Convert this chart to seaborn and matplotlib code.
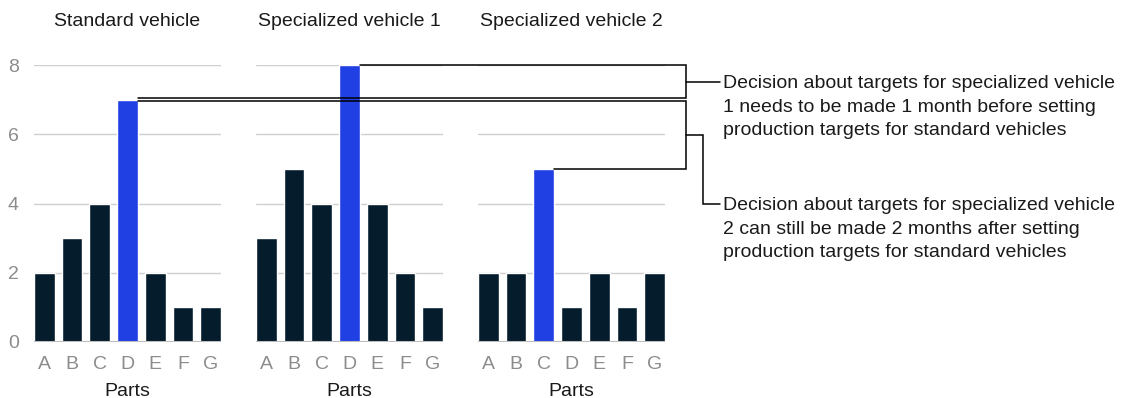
import matplotlib
matplotlib.use("Agg")
import matplotlib.pyplot as plt
from matplotlib.lines import Line2D
import seaborn as sns

# Parts usage per vehicle type
parts = ["A", "B", "C", "D", "E", "F", "G"]
standard_vehicle = [2, 3, 4, 7, 2, 1, 1]
specialized_vehicle_1 = [3, 5, 4, 8, 4, 2, 1]
specialized_vehicle_2 = [2, 2, 5, 1, 2, 1, 2]
panel_titles = ["Standard vehicle", "Specialized vehicle 1", "Specialized vehicle 2"]
highlight_parts = ["D", "D", "C"]
y_ticks = [0, 2, 4, 6, 8]
note_1 = ("Decision about targets for specialized vehicle\n"
          "1 needs to be made 1 month before setting\n"
          "production targets for standard vehicles")
note_2 = ("Decision about targets for specialized vehicle\n"
          "2 can still be made 2 months after setting\n"
          "production targets for standard vehicles")

NAVY = "#051C2C"
BLUE = "#2140E3"
GRID = "#CFCFCF"
TICK = "#8C8C8C"
TEXT = "#1A1A1A"
FS = 14

sns.set_theme(style="white")
plt.rcParams["font.family"] = ["Liberation Sans", "DejaVu Sans"]

W, H = 1130, 398
fig = plt.figure(figsize=(W / 100, H / 100), dpi=100)

lefts = [34, 256, 478]
ax_w = 187
y_bottom, y_top = 342, 65
series = [standard_vehicle, specialized_vehicle_1, specialized_vehicle_2]
axes = []
for i, (left, vals, title, hl) in enumerate(zip(lefts, series, panel_titles, highlight_parts)):
    ax = fig.add_axes([left / W, 1 - y_bottom / H, ax_w / W, (y_bottom - y_top) / H])
    colors = {p: (BLUE if p == hl else NAVY) for p in parts}
    sns.barplot(x=parts, y=vals, hue=parts, palette=colors, legend=False,
                width=0.75, saturation=1, ax=ax, zorder=3)
    ax.set_xlim(-0.375, 6.375)
    ax.set_ylim(0, 8)
    ax.set_yticks(y_ticks)
    for yv in y_ticks[1:]:
        ax.axhline(yv, color=GRID, lw=1, zorder=1)
    ax.axhline(0, color="#BDBDBD", lw=1.5, zorder=4)
    for s in ax.spines.values():
        s.set_visible(False)
    ax.tick_params(axis="both", length=0, labelsize=FS, colors=TICK)
    ax.tick_params(axis="x", pad=10)
    ax.tick_params(axis="y", pad=11)
    if i > 0:
        ax.set_yticklabels([])
    ax.set_xlabel("Parts", fontsize=FS, color=TEXT, labelpad=7)
    ax.set_ylabel("")
    ax.set_title(title, fontsize=FS, color=TEXT, pad=28)
    axes.append(ax)

fig.canvas.draw()


def bar_corner(ax, part, vals):
    """Top-right corner of a bar, in pixels."""
    idx = parts.index(part)
    return ax.transData.transform((idx + 0.375, vals[idx]))


def to_fig(x_px, y_px_from_top):
    return x_px / W, 1 - y_px_from_top / H


def draw_path(points_px):
    xs, ys = zip(*[to_fig(x, H - y) for x, y in points_px])
    fig.add_artist(Line2D(xs, ys, color="black", lw=1.1, transform=fig.transFigure,
                          solid_joinstyle="miter", zorder=10))


x_bracket = 686
gap = 1.5

std_top = bar_corner(axes[0], "D", standard_vehicle)
sp1_top = bar_corner(axes[1], "D", specialized_vehicle_1)
sp2_top = bar_corner(axes[2], "C", specialized_vehicle_2)

# Specialized vehicle 1 peak linked to standard vehicle peak
draw_path([(sp1_top[0], sp1_top[1]), (x_bracket, sp1_top[1]),
           (x_bracket, std_top[1] + gap), (std_top[0], std_top[1] + gap)])
# Standard vehicle peak linked to specialized vehicle 2 peak
draw_path([(std_top[0], std_top[1] - gap), (x_bracket, std_top[1] - gap),
           (x_bracket, sp2_top[1]), (sp2_top[0], sp2_top[1])])

# Leaders to the notes
mid1 = (sp1_top[1] + std_top[1] + gap) / 2
mid2 = (std_top[1] - gap + sp2_top[1]) / 2
draw_path([(x_bracket, mid1), (720, mid1)])
draw_path([(x_bracket, mid2), (703, mid2), (703, H - 204), (720, H - 204)])

fig.text(723 / W, 1 - 107 / H, note_1, fontsize=FS, color=TEXT,
         va="center", ha="left", linespacing=1.5)
fig.text(723 / W, 1 - 229 / H, note_2, fontsize=FS, color=TEXT,
         va="center", ha="left", linespacing=1.5)

fig.savefig("out.png", dpi=100)
